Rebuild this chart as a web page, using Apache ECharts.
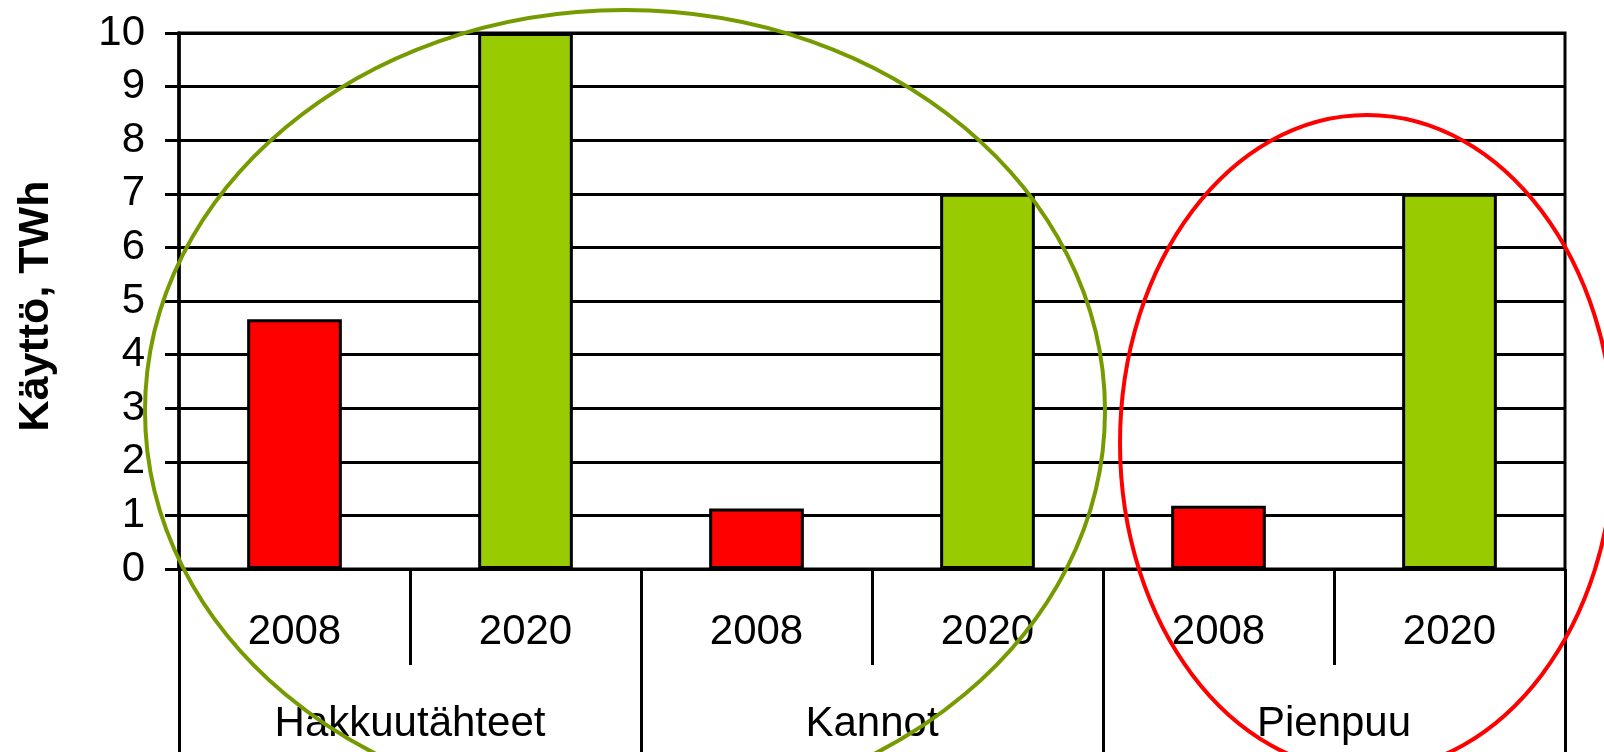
<!DOCTYPE html>
<html>
<head>
<meta charset="utf-8">
<script src="https://cdn.jsdelivr.net/npm/echarts@6/dist/echarts.min.js"></script>
<style>
  html, body { margin: 0; padding: 0; background: #fff; }
  #chart { width: 1604px; height: 752px; }
</style>
</head>
<body>
<div id="chart"></div>
<script>
// Data
const groups = ['Hakkuutähteet', 'Kannot', 'Pienpuu'];
const years = ['2008', '2020', '2008', '2020', '2008', '2020'];
const values = [4.66, 10, 1.13, 7, 1.18, 7];
const yTicks = [0, 1, 2, 3, 4, 5, 6, 7, 8, 9, 10];
const yTitle = 'Käyttö, TWh';

const RED = '#FF0000';
const GREEN = '#99CC00';
const FONT = '"Liberation Sans", Arial, sans-serif';

const chart = echarts.init(document.getElementById('chart'), null, { renderer: 'canvas' });

const option = {
  animation: false,
  backgroundColor: '#ffffff',
  textStyle: { fontFamily: FONT, color: '#000' },
  grid: {
    left: 179, right: 39, top: 33, bottom: 183,
    show: true, borderColor: '#000', borderWidth: 3, backgroundColor: 'transparent'
  },
  xAxis: [
    {
      type: 'category',
      data: years,
      boundaryGap: true,
      position: 'bottom',
      axisLine: { show: true, lineStyle: { color: '#000', width: 3 } },
      axisTick: { show: true, length: 96, lineStyle: { color: '#000', width: 3 } },
      axisLabel: {
        show: true, fontSize: 42, color: '#000', fontFamily: FONT,
        margin: 63, verticalAlign: 'middle', interval: 0
      },
      splitLine: { show: false }
    },
    {
      type: 'category',
      data: groups,
      boundaryGap: true,
      position: 'bottom',
      axisLine: { show: false },
      axisTick: { show: true, length: 220, lineStyle: { color: '#000', width: 3 } },
      axisLabel: {
        show: true, fontSize: 42, color: '#000', fontFamily: FONT,
        margin: 155, verticalAlign: 'middle', interval: 0
      },
      splitLine: { show: false }
    }
  ],
  yAxis: {
    type: 'value',
    min: yTicks[0],
    max: yTicks[yTicks.length - 1],
    interval: 1,
    name: yTitle,
    nameLocation: 'middle',
    nameGap: 121,
    nameRotate: 90,
    nameTextStyle: {
      fontSize: 43, fontWeight: 'bold', color: '#000', fontFamily: FONT,
      padding: [0, 10, 0, 0]
    },
    axisLine: { show: true, lineStyle: { color: '#000', width: 3.5 } },
    axisTick: { show: true, length: 14, lineStyle: { color: '#000', width: 3 } },
    axisLabel: { fontSize: 42, color: '#000', margin: 34, fontFamily: FONT },
    splitLine: { show: true, lineStyle: { color: '#000', width: 3 } }
  },
  series: [
    {
      type: 'bar',
      xAxisIndex: 0,
      barWidth: '41%',
      data: values.map((v, i) => ({
        value: v,
        itemStyle: { color: years[i] === '2008' ? RED : GREEN }
      })),
      itemStyle: { borderColor: '#000', borderWidth: 3 },
      z: 3
    }
  ],
  graphic: [
    {
      type: 'ellipse',
      shape: { cx: 625, cy: 411, rx: 480, ry: 401 },
      style: { fill: 'none', stroke: '#759B00', lineWidth: 4 },
      z: 100, silent: true
    },
    {
      type: 'ellipse',
      shape: { cx: 1367, cy: 443, rx: 247, ry: 328 },
      style: { fill: 'none', stroke: '#FF0000', lineWidth: 4 },
      z: 100, silent: true
    }
  ]
};

chart.setOption(option);
</script>
</body>
</html>
